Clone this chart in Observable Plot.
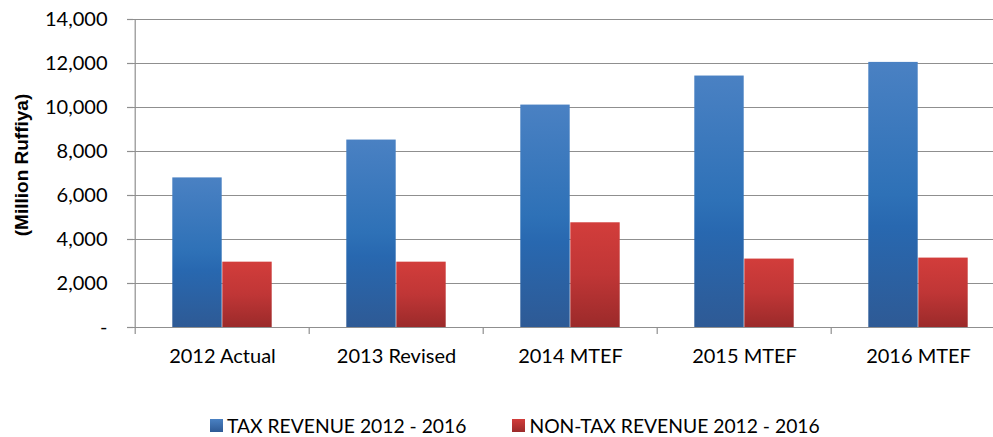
<!DOCTYPE html>
<html>
<head>
<meta charset="utf-8">
<script src="https://cdn.jsdelivr.net/npm/d3@7"></script>
<script src="https://cdn.jsdelivr.net/npm/@observablehq/plot@0.6"></script>
<style>
  html, body { margin: 0; padding: 0; background: #fff; overflow: hidden; }
  #wrap { position: relative; width: 993px; height: 437px; overflow: hidden; }
  #ytitle { position: absolute; left: 22px; top: 165px; transform: translate(-50%, -50%) rotate(-90deg);
    font: bold 19px "Liberation Sans", Arial, sans-serif; white-space: nowrap; color: #000; }
  #legend { position: absolute; left: 210px; top: 414px; display: flex; align-items: center;
    font: 19.3px Lato, sans-serif; color: #000; white-space: nowrap; }
  .item { display: flex; align-items: center; }
  .sw { width: 13px; height: 13px; margin-right: 4px; }
</style>
</head>
<body>
<div id="wrap">
  <div id="chart"></div>
  <div id="ytitle">(Million Ruffiya)</div>
  <div id="legend"></div>
</div>
<script>
const categories = ["2012 Actual", "2013 Revised", "2014 MTEF", "2015 MTEF", "2016 MTEF"];
const taxRevenue = [6800, 8520, 10110, 11430, 12050];
const nonTaxRevenue = [2970, 2970, 4760, 3110, 3155];
const seriesNames = ["TAX REVENUE 2012 - 2016", "NON-TAX REVENUE 2012 - 2016"];
const yTicks = [0, 2000, 4000, 6000, 8000, 10000, 12000, 14000];

const taxData = categories.map((c, i) => ({category: c, value: taxRevenue[i], series: seriesNames[0]}));
const nonTaxData = categories.map((c, i) => ({category: c, value: nonTaxRevenue[i], series: seriesNames[1]}));

const width = 993, height = 395;
const marginLeft = 133, marginRight = -13;
const step = (width - marginRight - marginLeft) / categories.length;
const half = step / 2;
const barW = 50;
const gray = "#8f8f8f";

const defs = () => {
  const d = d3.create("svg:defs");
  const g1 = d.append("linearGradient").attr("id", "gradTax").attr("x1", 0).attr("y1", 0).attr("x2", 0).attr("y2", 1);
  [[0, "#4a81c3"], [0.5, "#2e71b7"], [0.62, "#2868b0"], [1, "#2e5a95"]].forEach(([o, c]) =>
    g1.append("stop").attr("offset", o).attr("stop-color", c));
  const g2 = d.append("linearGradient").attr("id", "gradNon").attr("x1", 0).attr("y1", 0).attr("x2", 0).attr("y2", 1);
  [[0, "#d23d3b"], [0.5, "#c03636"], [1, "#9b2a2a"]].forEach(([o, c]) =>
    g2.append("stop").attr("offset", o).attr("stop-color", c));
  return d.node();
};

const fmt = d => d === 0 ? "-" : d3.format(",")(d);

const chart = Plot.plot({
  width, height,
  marginLeft, marginRight, marginTop: 19, marginBottom: 68,
  style: {fontFamily: "Lato, sans-serif", fontSize: "20px", color: "#000", background: "#fff"},
  x: {domain: categories, padding: 0, label: null},
  y: {domain: [0, 14000], label: null},
  marks: [
    defs,
    Plot.gridY({ticks: yTicks.filter(t => t > 0), stroke: gray, strokeOpacity: 1, strokeWidth: 1.2}),
    Plot.barY(taxData, {x: "category", y: "value", fill: "url(#gradTax)", insetLeft: half - barW, insetRight: half}),
    Plot.barY(nonTaxData, {x: "category", y: "value", fill: "url(#gradNon)", insetLeft: half, insetRight: half - barW}),
    Plot.ruleY([0], {stroke: gray, strokeWidth: 1.2}),
    Plot.ruleX([categories[0]], {dx: -half, stroke: gray, strokeWidth: 1.2}),
    Plot.axisY({ticks: yTicks, tickSize: 6, text: null, stroke: gray, strokeWidth: 1.2}),
    Plot.axisY({ticks: yTicks, tickSize: 0, tickPadding: 26, tickFormat: fmt, fill: "#000", fontSize: 20, label: null}),
    Plot.axisX({tickSize: 7, text: null, dx: -half, stroke: gray, strokeWidth: 1.2}),
    Plot.axisX({tickSize: 0, tickPadding: 21, fill: "#000", fontSize: 20, label: null})
  ]
});
document.getElementById("chart").appendChild(chart);

const legendFills = ["linear-gradient(#4a81c3, #2e5a95)", "linear-gradient(#d23d3b, #9b2a2a)"];
const legend = document.getElementById("legend");
seriesNames.forEach((name, i) => {
  const item = document.createElement("div");
  item.className = "item";
  if (i > 0) item.style.marginLeft = "46px";
  const sw = document.createElement("div");
  sw.className = "sw";
  sw.style.background = legendFills[i];
  const t = document.createElement("span");
  t.textContent = name;
  item.appendChild(sw);
  item.appendChild(t);
  legend.appendChild(item);
});
</script>
</body>
</html>
